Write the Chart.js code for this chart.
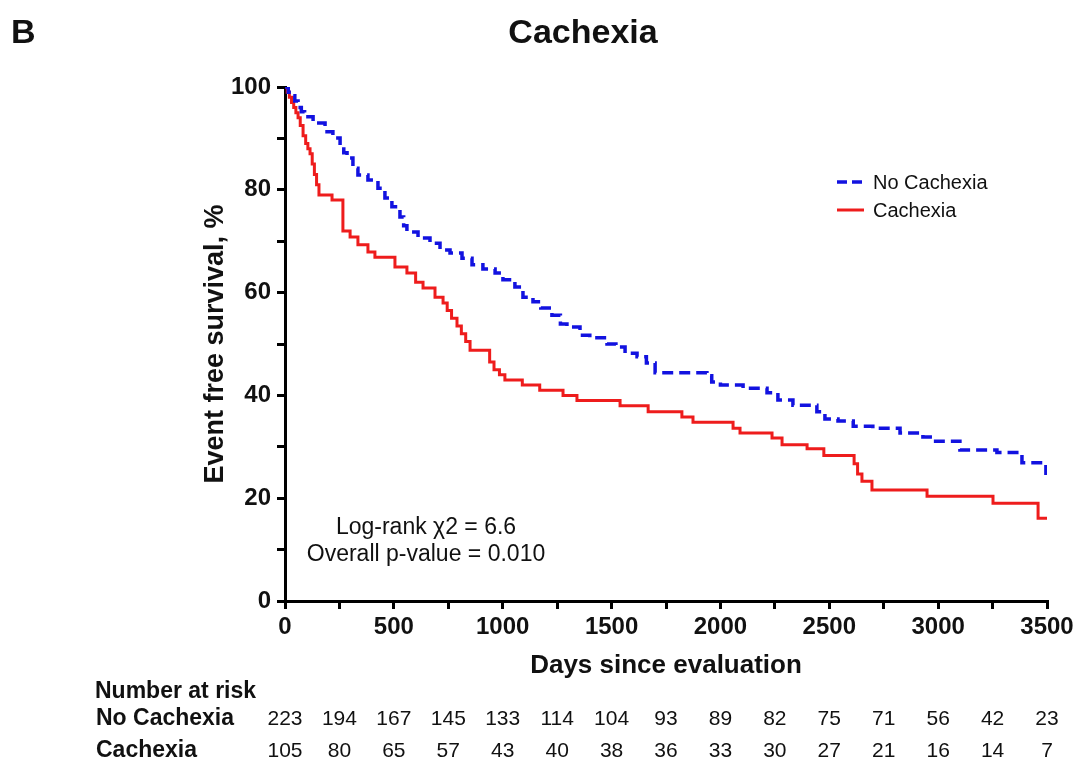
<!DOCTYPE html>
<html>
<head>
<meta charset="utf-8">
<script src="https://cdn.jsdelivr.net/npm/chart.js@4.4.1/dist/chart.umd.min.js"></script>
<style>
  html, body { margin: 0; padding: 0; background: #fff; }
  #wrap { width: 1085px; height: 760px; }
</style>
</head>
<body>
<div id="wrap"><canvas id="km" width="1085" height="760"></canvas></div>
<script>
// Kaplan-Meier steps (day of drop, survival % after it)
const noCachexiaDays = [0, 15, 30, 45, 60, 75, 90, 129, 184, 220, 253, 270, 285, 312, 335, 381, 427, 459, 491, 528, 545, 560, 611, 666, 712, 758, 813, 859, 909, 965, 1001, 1056, 1093, 1139, 1175, 1226, 1265, 1295, 1355, 1400, 1479, 1520, 1562, 1617, 1660, 1700, 1938, 1960, 2000, 2104, 2214, 2264, 2333, 2443, 2480, 2540, 2610, 2700, 2825, 2930, 2977, 3100, 3270, 3385, 3495];
const noCachexiaSurvival = [100, 99, 98.3, 97.3, 96, 95.2, 94.2, 93, 91.3, 90.1, 88.3, 87.2, 86.2, 84.2, 82.9, 81.9, 80.3, 78.4, 76.7, 74.7, 73, 71.8, 70.6, 69.6, 68.3, 67.7, 66.7, 65.4, 64.6, 63.8, 62.5, 61.1, 59.1, 58.2, 57, 55.6, 53.9, 53.3, 51.7, 51.2, 50, 49.4, 48.2, 47.5, 46.3, 44.4, 43.8, 42.6, 42, 41.4, 40.5, 39.1, 38.1, 36.8, 35.4, 35, 34, 33.6, 32.7, 31.9, 31.1, 29.4, 28.9, 26.9, 24.5];

const cachexiaDays = [0, 10, 20, 30, 40, 50, 60, 70, 83, 95, 105, 115, 125, 135, 145, 156, 216, 266, 299, 335, 381, 413, 505, 560, 600, 634, 689, 726, 745, 765, 790, 810, 830, 850, 940, 960, 985, 1010, 1090, 1170, 1277, 1341, 1539, 1668, 1823, 1874, 2058, 2090, 2237, 2283, 2398, 2475, 2614, 2630, 2650, 2696, 2949, 3252, 3459, 3500];
const cachexiaSurvival = [100, 99, 98, 97, 96, 95, 94, 92.5, 90.5, 89, 88, 87, 85, 83, 81, 79, 78, 72, 70.8, 69.3, 67.9, 66.9, 65, 63.8, 62, 60.9, 59.1, 58, 56.5, 55, 53.5, 52, 50.5, 48.8, 46.5, 45, 44, 43, 42, 41, 40, 39, 38, 36.8, 35.8, 34.8, 33.6, 32.7, 31.7, 30.4, 29.6, 28.3, 26.7, 24.7, 23.3, 21.6, 20.4, 19, 16.1, 16.1];

// number at risk table
const riskDays = [0, 250, 500, 750, 1000, 1250, 1500, 1750, 2000, 2250, 2500, 2750, 3000, 3250, 3500];
const riskNoCachexia = [223, 194, 167, 145, 133, 114, 104, 93, 89, 82, 75, 71, 56, 42, 23];
const riskCachexia = [105, 80, 65, 57, 43, 40, 38, 36, 33, 30, 27, 21, 16, 14, 7];

const BLUE = '#1212e0';
const RED = '#ee1c1c';
const FONT = '"Liberation Sans", Arial, Helvetica, sans-serif';

function toPoints(days, surv) {
    return days.map((d, i) => ({x: d, y: surv[i]}));
}

const extraText = {
    id: 'extraText',
    afterDraw(chart) {
        const ctx = chart.ctx;
        const xs = chart.scales.x;
        ctx.save();
        ctx.fillStyle = '#111';
        ctx.textBaseline = 'alphabetic';

        // panel letter and title
        ctx.font = 'bold 34px ' + FONT;
        ctx.textAlign = 'left';
        ctx.fillText('B', 11, 43);
        ctx.textAlign = 'center';
        ctx.fillText('Cachexia', 583, 43);

        // log-rank annotation
        ctx.font = '23px ' + FONT;
        ctx.fillText('Log-rank \u03C72 = 6.6', 426, 534);
        ctx.fillText('Overall p-value = 0.010', 426, 561);

        // legend
        ctx.lineWidth = 3.5;
        ctx.strokeStyle = BLUE;
        ctx.setLineDash([10, 5]);
        ctx.beginPath(); ctx.moveTo(837, 182); ctx.lineTo(864, 182); ctx.stroke();
        ctx.setLineDash([]);
        ctx.lineWidth = 3;
        ctx.strokeStyle = RED;
        ctx.beginPath(); ctx.moveTo(837, 210); ctx.lineTo(864, 210); ctx.stroke();
        ctx.font = '20px ' + FONT;
        ctx.textAlign = 'left';
        ctx.fillText('No Cachexia', 873, 189);
        ctx.fillText('Cachexia', 873, 217);

        // number at risk
        ctx.font = 'bold 23px ' + FONT;
        ctx.fillText('Number at risk', 95, 698);
        ctx.fillText('No Cachexia', 96, 725);
        ctx.fillText('Cachexia', 96, 757);
        ctx.font = '21px ' + FONT;
        ctx.textAlign = 'center';
        riskDays.forEach((d, i) => {
            const px = xs.getPixelForValue(d);
            ctx.fillText(String(riskNoCachexia[i]), px, 725);
            ctx.fillText(String(riskCachexia[i]), px, 757);
        });
        ctx.restore();
    }
};

const ctx = document.getElementById('km').getContext('2d');
new Chart(ctx, {
    type: 'line',
    data: {
        datasets: [
            {
                label: 'No Cachexia',
                data: toPoints(noCachexiaDays, noCachexiaSurvival),
                borderColor: BLUE,
                borderWidth: 3.5,
                borderDash: [11, 6],
                stepped: true,
                pointRadius: 0,
                fill: false,
            },
            {
                label: 'Cachexia',
                data: toPoints(cachexiaDays, cachexiaSurvival),
                borderColor: RED,
                borderWidth: 3,
                stepped: true,
                pointRadius: 0,
                fill: false,
            },
        ],
    },
    options: {
        responsive: false,
        animation: false,
        layout: {padding: {left: 195, right: 38, top: 87, bottom: 75}},
        plugins: {
            legend: {display: false},
            tooltip: {enabled: false},
            title: {display: false},
        },
        scales: {
            x: {
                type: 'linear',
                min: 0,
                max: 3500,
                afterFit: (s) => { s.height = 84; },
                border: {color: '#000', width: 3},
                grid: {drawOnChartArea: false, color: '#000', lineWidth: 3, tickLength: 8},
                ticks: {
                    stepSize: 250,
                    padding: 4,
                    color: '#111',
                    maxRotation: 0,
                    autoSkip: false,
                    font: {family: FONT, size: 24, weight: 'bold'},
                    callback: (v) => (v % 500 === 0 ? v : ''),
                },
                title: {
                    display: true,
                    text: 'Days since evaluation',
                    color: '#111',
                    font: {family: FONT, size: 26, weight: 'bold'},
                },
            },
            y: {
                min: 0,
                max: 100,
                afterFit: (s) => { s.width = 90; },
                border: {color: '#000', width: 3},
                grid: {drawOnChartArea: false, color: '#000', lineWidth: 3, tickLength: 8},
                ticks: {
                    stepSize: 10,
                    padding: 6,
                    color: '#111',
                    autoSkip: false,
                    font: {family: FONT, size: 24, weight: 'bold'},
                    callback: (v) => (v % 20 === 0 ? v : ''),
                },
                title: {
                    display: true,
                    text: 'Event free survival, %',
                    color: '#111',
                    font: {family: FONT, size: 27, weight: 'bold'},
                },
            },
        },
    },
    plugins: [extraText],
});
</script>
</body>
</html>
